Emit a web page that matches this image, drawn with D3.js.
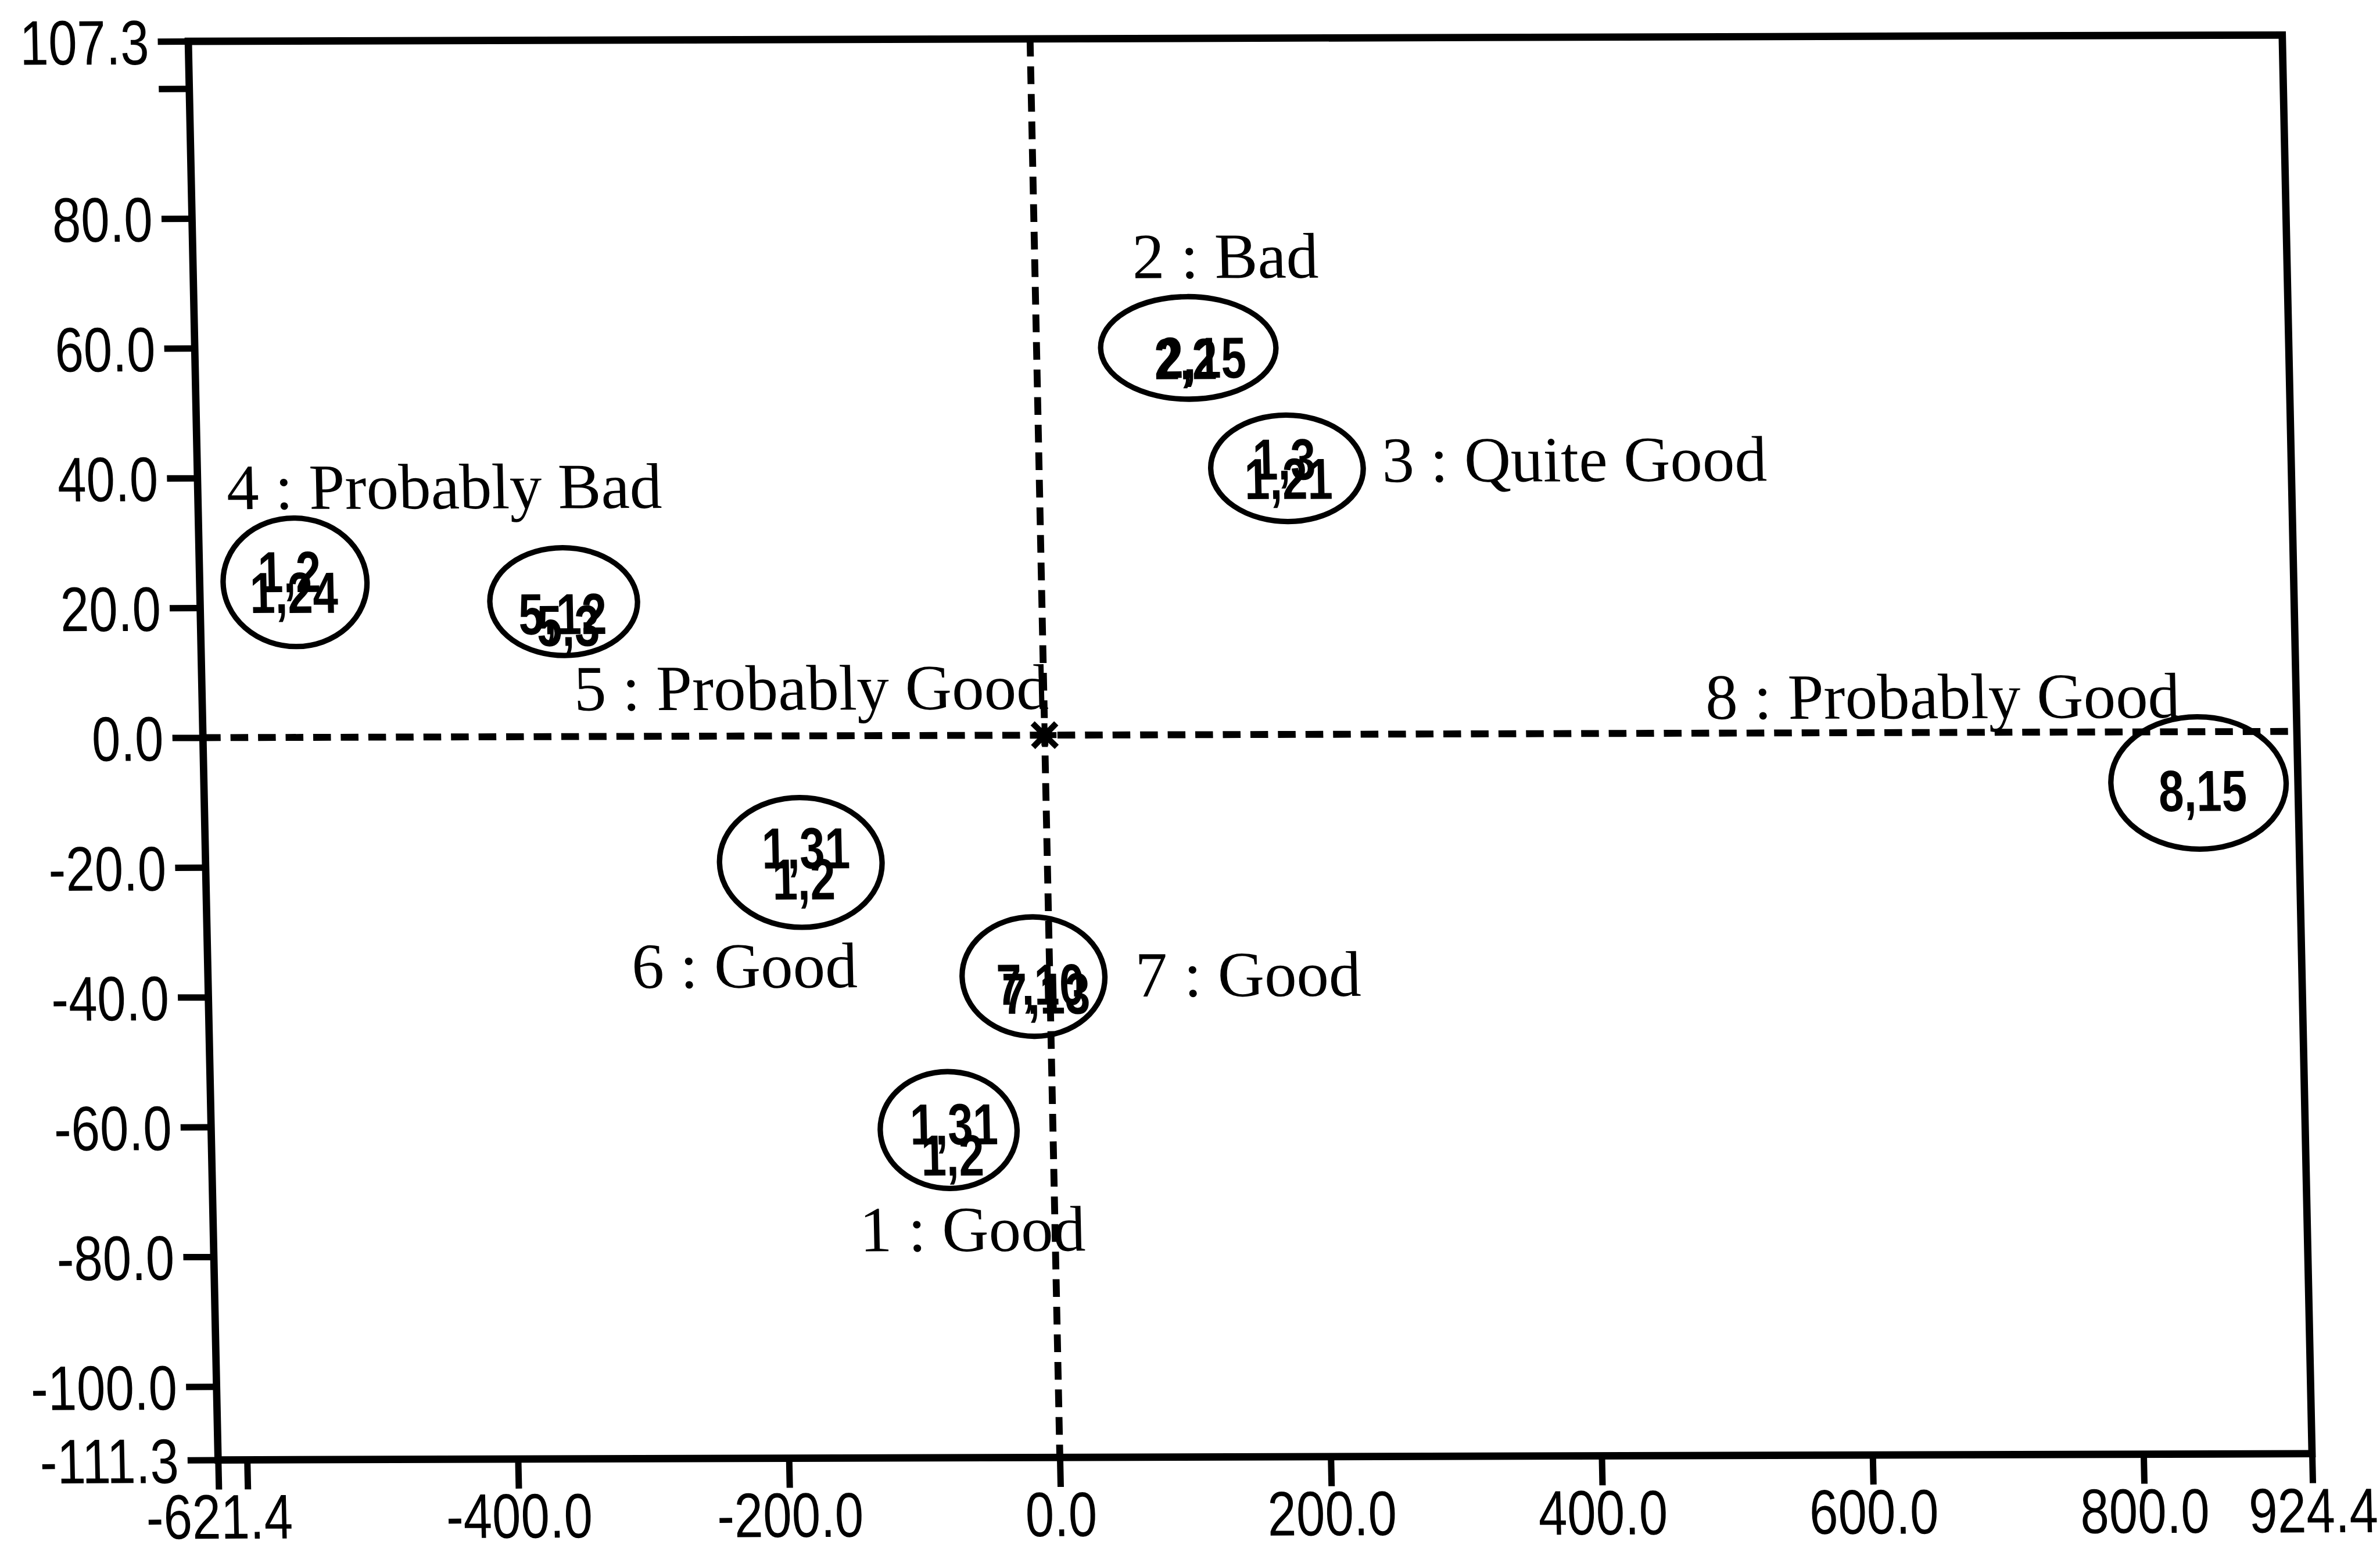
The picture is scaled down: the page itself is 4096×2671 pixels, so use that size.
<!DOCTYPE html>
<html>
<head>
<meta charset="utf-8">
<script src="https://cdn.jsdelivr.net/npm/d3@7"></script>
<style>
  html, body { margin: 0; padding: 0; background: #fff; }
  svg { display: block; }
</style>
</head>
<body>
<svg id="chart"></svg>
<script>
// Cluster centres on the two components, with the spread drawn as an ellipse
const clusterIds    = [1, 2, 3, 4, 5, 6, 7, 8];
const clusterNames  = ["Good", "Bad", "Quite Good", "Probably Bad", "Probably Good", "Good", "Good", "Probably Good"];
const centerX = [-77, 112, 183, -551, -353, -182, -12, 851];
const centerY = [-60.8, 59.6, 41.0, 23.9, 20.8, -19.5, -37.2, -7.9];
const spreadX = [50.5, 64.7, 56.3, 53.1, 54.5, 60.0, 52.7, 64.7];
const spreadY = [9.0, 7.9, 8.2, 9.9, 8.3, 10.0, 9.2, 10.2];

// Member points, plotted by their codes
const pointCode = ["1,31", "1,2", "2,2", "2,15", "1,3", "1,21", "1,2", "1,24", "5,12", "5,3", "1,31", "1,2", "7,10", "7,13", "8,15"];
const pointX = [-73, -74.5, 110, 122, 181, 184, -555, -552, -354, -350, -178, -180, -7, -3, 854];
const pointY = [-59.8, -64.6, 58.0, 58.2, 42.5, 39.5, 25.6, 22.4, 19.0, 17.2, -17.2, -22.0, -38.3, -39.7, -9.0];

// Axis ticks
const xTickValues = [-621.4, -600, -400, -200, 0, 200, 400, 600, 800, 924.4];
const xTickLabels = ["-621.4", "", "-400.0", "-200.0", "0.0", "200.0", "400.0", "600.0", "800.0", "924.4"];
const yTickValues = [107.3, 100, 80, 60, 40, 20, 0, -20, -40, -60, -80, -100, -111.3];
const yTickLabels = ["107.3", "", "80.0", "60.0", "40.0", "20.0", "0.0", "-20.0", "-40.0", "-60.0", "-80.0", "-100.0", "-111.3"];

// ---- layout ----
const W = 4835, H = 3153;
const L = 443, R = 4697, T = 84, B = 2966;
const kx = 0.021, ky = 0.003;           // slight slant of the printed page
const nameOffset = [[-185, 246], [-110, -142], [193, 28], [-135, -149], [17, 221], [-348, 254], [207, 41], [-998, -133]];
const sansFont = "'Liberation Sans', Arial, sans-serif";
const nameFont = "'Liberation Serif', 'Times New Roman', serif";
const narrow = 0.82;                    // horizontal squeeze for the narrow sans labels

// squeeze a text horizontally around its anchor point
function condense(sel, sx) {
  sel.each(function () {
    const t = d3.select(this);
    const tx = +t.attr("x") || 0, ty = +t.attr("y") || 0;
    t.attr("x", 0).attr("y", 0).attr("transform", `translate(${tx},${ty}) scale(${sx},1)`);
  });
}

const svg = d3.select("#chart")
  .attr("width", 4096).attr("height", 2671)
  .attr("viewBox", `0 0 ${W} ${H}`);

svg.append("rect").attr("width", W).attr("height", H).attr("fill", "#fff");

const g = svg.append("g")
  .attr("transform", `matrix(1,${-ky},${kx},1,${-kx * B},${ky * L})`);

const x = d3.scaleLinear().domain([-621.4, 924.4]).range([L, R]);
const y = d3.scaleLinear().domain([-111.3, 107.3]).range([B, T]);

// axes
const xAxis = d3.axisBottom(x)
  .tickValues(xTickValues)
  .tickFormat((d, i) => xTickLabels[i])
  .tickSize(60).tickPadding(9).tickSizeOuter(0);
const yAxis = d3.axisLeft(y)
  .tickValues(yTickValues)
  .tickFormat((d, i) => yTickLabels[i])
  .tickSize(62).tickPadding(18).tickSizeOuter(0);

const gx = g.append("g").attr("transform", `translate(0,${B})`).call(xAxis);
const gy = g.append("g").attr("transform", `translate(${L},0)`).call(yAxis);
[gx, gy].forEach(a => {
  a.select(".domain").remove();
  a.selectAll(".tick line").attr("stroke", "#000").attr("stroke-width", 13);
  a.selectAll(".tick text")
    .attr("fill", "#000")
    .style("font-family", sansFont)
    .style("font-size", "128px")
    .call(condense, narrow);
});
gy.selectAll(".tick text").attr("dy", "0.36em");

// frame
g.append("rect")
  .attr("x", L).attr("y", T)
  .attr("width", R - L).attr("height", B - T)
  .attr("fill", "none").attr("stroke", "#000").attr("stroke-width", 15);

// zero lines
g.append("line")
  .attr("x1", L).attr("x2", R).attr("y1", y(0)).attr("y2", y(0))
  .attr("stroke", "#000").attr("stroke-width", 14).attr("stroke-dasharray", "36 20");
g.append("line")
  .attr("x1", x(0)).attr("x2", x(0)).attr("y1", T).attr("y2", B)
  .attr("stroke", "#000").attr("stroke-width", 14).attr("stroke-dasharray", "36 20");

// origin marker
const ox = x(0), oy = y(0), s = 24;
g.append("path")
  .attr("d", `M${ox - s},${oy}H${ox + s}M${ox},${oy - s}V${oy + s}` +
             `M${ox - s},${oy - s}L${ox + s},${oy + s}M${ox - s},${oy + s}L${ox + s},${oy - s}`)
  .attr("stroke", "#000").attr("stroke-width", 12).attr("fill", "none");

// member codes
g.append("g").selectAll("text")
  .data(pointCode)
  .join("text")
  .attr("x", (d, i) => x(pointX[i]))
  .attr("y", (d, i) => y(pointY[i]))
  .attr("dy", "0.36em")
  .attr("text-anchor", "middle")
  .style("font-family", sansFont)
  .style("font-weight", "bold")
  .style("font-size", "118px")
  .attr("fill", "#000")
  .text(d => d)
  .call(condense, 0.78);

// cluster ellipses
g.append("g").selectAll("ellipse")
  .data(clusterIds)
  .join("ellipse")
  .attr("cx", (d, i) => x(centerX[i]))
  .attr("cy", (d, i) => y(centerY[i]))
  .attr("rx", (d, i) => x(centerX[i] + spreadX[i]) - x(centerX[i]))
  .attr("ry", (d, i) => y(centerY[i] - spreadY[i]) - y(centerY[i]))
  .attr("fill", "none").attr("stroke", "#000").attr("stroke-width", 11);

// cluster names
g.append("g").selectAll("text")
  .data(clusterIds)
  .join("text")
  .attr("x", (d, i) => x(centerX[i]) + nameOffset[i][0])
  .attr("y", (d, i) => y(centerY[i]) + nameOffset[i][1])
  .style("font-family", nameFont)
  .style("font-size", "131px")
  .attr("fill", "#000")
  .text((d, i) => `${d} : ${clusterNames[i]}`);
</script>
</body>
</html>
